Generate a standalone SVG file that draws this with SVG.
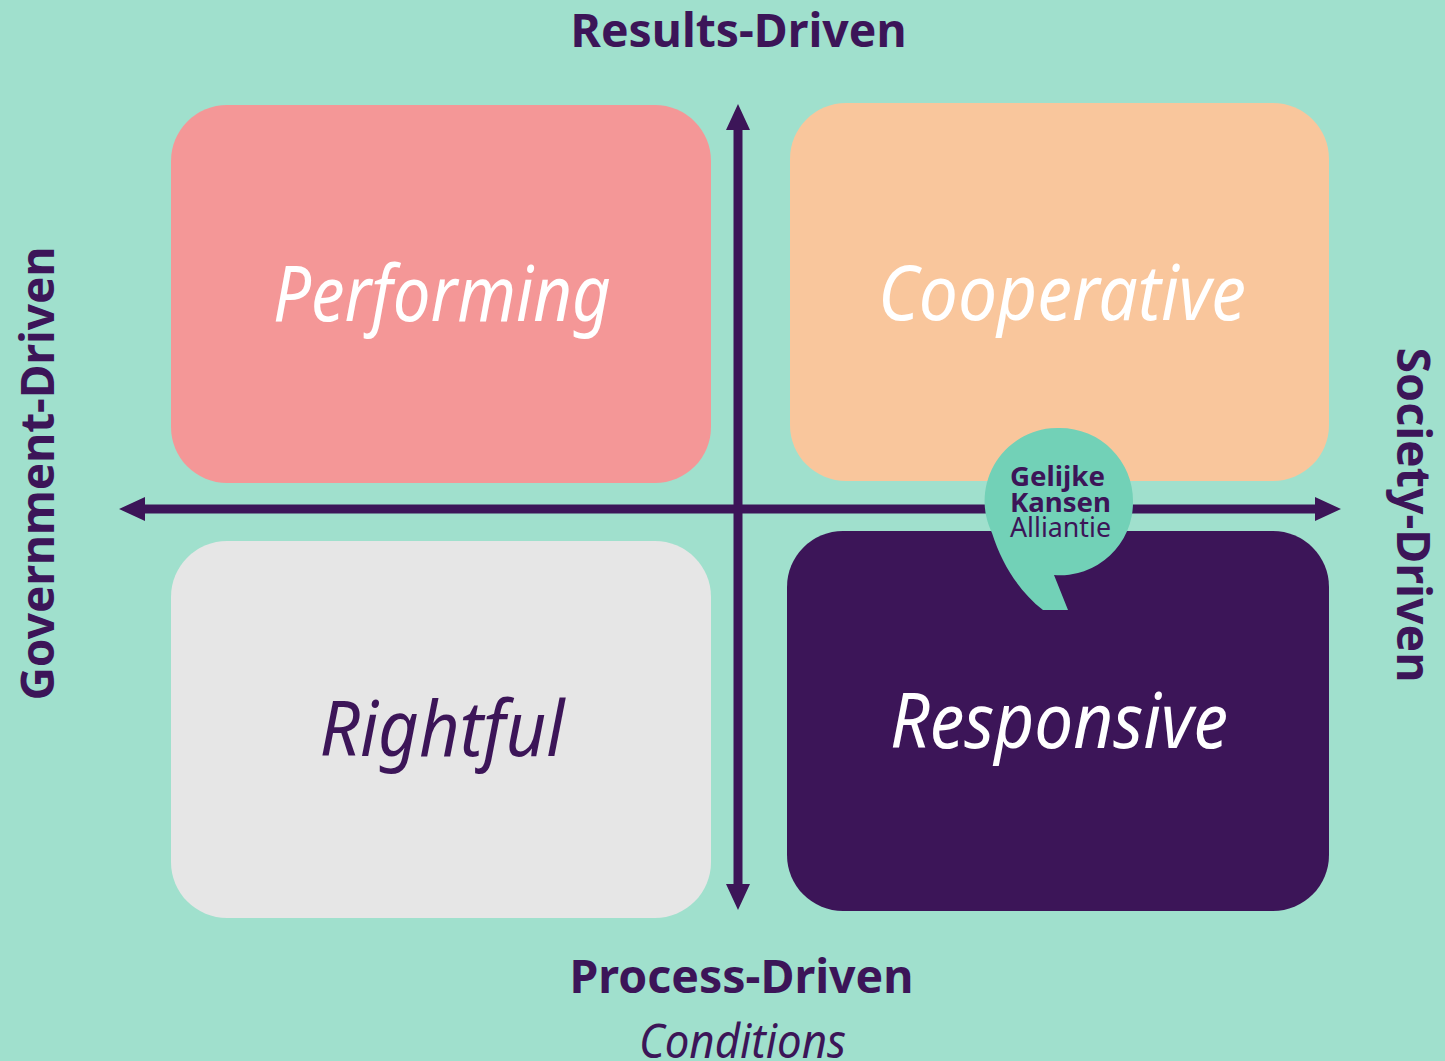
<svg xmlns="http://www.w3.org/2000/svg" width="1445" height="1061" viewBox="0 0 1445 1061">
<style>
.ax{font-family:"Noto Sans","Open Sans",sans-serif;font-weight:700;font-size:47px;fill:#3c1558;text-anchor:middle}
.q{font-family:"Noto Sans","Open Sans",sans-serif;font-style:italic;font-size:76px;text-anchor:middle;fill:#fff}
.b{font-family:"Noto Sans","Open Sans",sans-serif;font-size:27px;fill:#3c1558;font-weight:700}
.l{fill:none;stroke:#3c1558;stroke-width:9}
.h{fill:#3c1558}
</style>
<rect width="1445" height="1061" fill="#a0e0cd"/>
<g id="performing"><rect x="171" y="105" width="540" height="378" rx="56" fill="#f49797"/><text class="q" x="442" y="321" textLength="338" lengthAdjust="spacingAndGlyphs">Performing</text></g>
<g id="cooperative"><rect x="790" y="103" width="539" height="378" rx="56" fill="#f9c69c"/><text class="q" x="1062" y="320" textLength="368" lengthAdjust="spacingAndGlyphs">Cooperative</text></g>
<g id="rightful"><rect x="171" y="541" width="540" height="377" rx="56" fill="#e6e6e6"/><text class="q" x="442" y="756" style="fill:#3c1558" textLength="245" lengthAdjust="spacingAndGlyphs">Rightful</text></g>
<g id="responsive"><rect x="787" y="531" width="542" height="380" rx="56" fill="#3c1558"/><text class="q" x="1059" y="748" textLength="338" lengthAdjust="spacingAndGlyphs">Responsive</text></g>
<g id="connectors">
<path class="l" d="M738 125V890M140 509H1320"/>
<path class="h" d="M738 104L750 130H726ZM738 910L750 884H726ZM119 509L145 497V521ZM1341 509L1315 497V521Z"/>
</g>
<g id="badge"><path d="M1060 428A73 73 0 0 1 1133 501A73 73 0 0 1 1054 575L1068 610H1043C1020 592 1002 565 992 533A73 73 0 0 1 1060 428Z" fill="#72d1b7"/>
<text class="b" x="1010" y="486" textLength="95" lengthAdjust="spacingAndGlyphs">Gelijke</text>
<text class="b" x="1010" y="512" textLength="101" lengthAdjust="spacingAndGlyphs">Kansen</text>
<text class="b" x="1010" y="537" style="font-weight:400" textLength="101" lengthAdjust="spacingAndGlyphs">Alliantie</text></g>
<g id="axis-labels">
<text class="ax" x="738.500" y="47" textLength="336" lengthAdjust="spacingAndGlyphs">Results-Driven</text>
<text class="ax" x="741.500" y="993" textLength="344" lengthAdjust="spacingAndGlyphs">Process-Driven</text>
<text x="742.500" y="1058" font-family="Noto Sans,Open Sans,sans-serif" font-style="italic" font-size="48" fill="#3c1558" text-anchor="middle" textLength="207" lengthAdjust="spacingAndGlyphs">Conditions</text>
<text class="ax" transform="translate(54 473.500) rotate(-90)" textLength="454" lengthAdjust="spacingAndGlyphs">Government-Driven</text>
<text class="ax" transform="translate(1397 515) rotate(90)" textLength="335" lengthAdjust="spacingAndGlyphs">Society-Driven</text>
</g>
</svg>
